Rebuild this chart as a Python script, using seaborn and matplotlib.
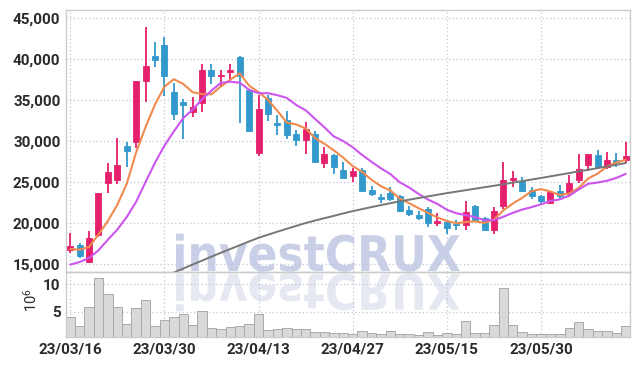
import numpy as np
import seaborn as sns
import matplotlib.pyplot as plt
from matplotlib.textpath import TextPath
from matplotlib.patches import PathPatch
from matplotlib.font_manager import FontProperties
from matplotlib.transforms import Affine2D, IdentityTransform

dates = ['23/03/16', '23/03/17', '23/03/20', '23/03/21', '23/03/22', '23/03/23', '23/03/24',
         '23/03/27', '23/03/28', '23/03/29', '23/03/30', '23/03/31',
         '23/04/03', '23/04/04', '23/04/05', '23/04/06', '23/04/07', '23/04/10', '23/04/11',
         '23/04/12', '23/04/13', '23/04/14', '23/04/17', '23/04/18', '23/04/19', '23/04/20',
         '23/04/21', '23/04/24', '23/04/25', '23/04/26', '23/04/27', '23/04/28',
         '23/05/02', '23/05/03', '23/05/04', '23/05/08', '23/05/09', '23/05/10', '23/05/11',
         '23/05/12', '23/05/15', '23/05/16', '23/05/17', '23/05/18', '23/05/19', '23/05/22',
         '23/05/23', '23/05/24', '23/05/25', '23/05/26', '23/05/30', '23/05/31',
         '23/06/01', '23/06/02', '23/06/05', '23/06/07', '23/06/08', '23/06/09', '23/06/12',
         '23/06/13']

open_p = [16650, 17350, 15300, 18500, 24850, 25200, 29350, 29850, 37300, 40400,
          41750, 36000, 34800, 33600, 34700, 38700, 37900, 38450, 40300, 36250,
          28600, 35250, 32200, 32600, 30900, 30100, 30900, 27300, 28250, 26500,
          25800, 26500, 24050, 23200, 23700, 23350, 21650, 21000, 21700, 20000,
          20150, 19800, 19700, 22100, 20600, 19200, 22050, 25200, 25150, 24050,
          23350, 22500, 23950, 23650, 25300, 27050, 28350, 26850, 27700, 27700]
high_p = [18800, 17500, 19050, 23700, 27300, 30350, 29850, 37350, 43900, 42050,
          42750, 37050, 35100, 35350, 39400, 39400, 38650, 39450, 40400, 36300,
          35650, 35650, 33150, 33700, 31400, 32300, 31200, 29250, 28450, 27500,
          26700, 26700, 24550, 23600, 24450, 23400, 22050, 21500, 21950, 21200,
          20250, 20400, 22650, 22250, 20700, 21900, 27500, 26400, 25600, 24450,
          23400, 23800, 24650, 25850, 28450, 28450, 28950, 28650, 28550, 29850]
low_p = [16400, 15750, 15100, 18350, 23650, 24800, 26900, 29200, 34750, 39000,
         35550, 32600, 30250, 33000, 33600, 37000, 36650, 37250, 32200, 31100,
         28150, 32500, 30700, 30300, 29350, 28400, 27500, 26700, 25950, 25500,
         25000, 23850, 23350, 22500, 22700, 21400, 20900, 20400, 19500, 19600,
         18600, 19100, 19200, 20200, 19100, 18650, 21700, 24450, 23750, 22950,
         22350, 22350, 22950, 23150, 24900, 26400, 26700, 26650, 26850, 27300]
close_p = [17250, 15950, 18150, 23700, 26200, 27100, 28750, 37350, 39200, 39900,
           38000, 33350, 34450, 34200, 38700, 37900, 38100, 38700, 38000, 31200,
           33950, 33350, 32000, 30800, 30100, 31500, 27500, 28400, 26850, 25550,
           26400, 23950, 23600, 22900, 22950, 21500, 21100, 20600, 20000, 20200,
           19350, 19700, 21400, 20400, 19200, 21450, 25300, 25500, 23950, 23250,
           22700, 23800, 23350, 24900, 26600, 28450, 26850, 27700, 27400, 28200]

# volume in 10^6 shares
volume = [3.96, 2.38, 5.79, 11.1, 8.17, 5.79, 2.68, 5.61, 7.07, 2.3,
          3.48, 4.02, 4.57, 2.56, 5.06, 1.95, 1.77, 2.13, 2.38, 2.7,
          4.57, 1.65, 1.83, 1.95, 1.77, 1.77, 1.34, 1.22, 1.04, 1.04,
          1.0, 1.4, 1.1, 1.0, 1.4, 1.0, 0.85, 0.7, 1.3, 0.8,
          1.16, 0.91, 3.29, 1.04, 1.04, 2.56, 9.27, 2.56, 1.22, 0.88,
          0.9, 0.85, 0.85, 1.95, 3.17, 1.77, 1.52, 1.52, 1.04, 2.38]

ma5 = [16830, 16750, 17070, 18600, 20250, 22230, 24790, 28630, 31720, 34460,
       36640, 37560, 36980, 35980, 35740, 35720, 36670, 37510, 38280, 36770,
       35980, 35040, 33700, 32260, 32040, 31550, 30380, 29670, 28870, 27970,
       26950, 26240, 25280, 24490, 23970, 22980, 22420, 21810, 21240, 20680,
       20250, 19970, 20120, 20200, 20000, 20420, 21550, 22370, 23070, 23890,
       24140, 23850, 23420, 23620, 24290, 25430, 26030, 26900, 27400, 27720]
ma10 = [14920, 15240, 15730, 16670, 17970, 19190, 20730, 22600, 25000, 27360,
        29440, 31180, 32810, 33850, 35100, 36180, 37110, 37250, 37130, 36260,
        35850, 35850, 35610, 35270, 34410, 33770, 32710, 31680, 30570, 30000,
        29250, 28310, 27470, 26680, 25970, 24970, 24330, 23550, 22860, 22330,
        21620, 21190, 20970, 20720, 20340, 20340, 20760, 21240, 21640, 21940,
        22280, 22700, 22890, 23350, 24090, 24790, 24940, 25160, 25510, 26000]
ma60_start = 11
ma60 = [13950, 14440, 14930, 15410, 15900, 16370, 16830, 17290, 17750,
        18200, 18570, 18940, 19300, 19650, 20000, 20300, 20590, 20880, 21170,
        21450, 21700, 21950, 22190, 22420, 22650, 22850, 23050, 23250, 23450,
        23650, 23830, 24010, 24190, 24370, 24550, 24740, 24930, 25120, 25310,
        25500, 25700, 25900, 26100, 26300, 26500, 26700, 26910, 27120, 27320]

price_ticks = [15000, 20000, 25000, 30000, 35000, 40000, 45000]
vol_ticks = [5, 10]
label_every = 10

up_color = '#e5206c'
down_color = '#3399cc'
grid_color = '#c3c7da'
spine_color = '#cccccc'
text_color = '#2b2b2b'

sns.set_theme(style='white')
plt.rcParams['font.family'] = ['Roboto', 'DejaVu Sans']

dpi = 100
fig = plt.figure(figsize=(639 / dpi, 366 / dpi), dpi=dpi, facecolor='white')
ax = fig.add_axes([66 / 639, 1 - 272 / 366, 564 / 639, 262.5 / 366])
axv = fig.add_axes([66 / 639, 1 - 337 / 366, 564 / 639, 65 / 366], sharex=ax)
for a in (ax, axv):
    a.set_facecolor('none')
    a.set_zorder(1)

# watermark with reflection
fp = FontProperties(family='DejaVu Sans', weight='bold')
tp = TextPath((0, 0), 'investCRUX', size=100, prop=fp)
ext = tp.get_extents()
sx = 284 / ext.width
sy = 38 / ext.height
base = 366 - 271
tr_main = Affine2D().translate(-ext.x0, 0).scale(sx, sy).translate(176, base)
tr_refl = Affine2D().translate(-ext.x0, 0).scale(sx, -sy).translate(176, base - 3)
fig.add_artist(PathPatch(tr_main.transform_path(tp), transform=IdentityTransform(),
                         facecolor='#c9cfe6', edgecolor='none', zorder=0))
fig.add_artist(PathPatch(tr_refl.transform_path(tp), transform=IdentityTransform(),
                         facecolor='#e6e8f1', edgecolor='none', zorder=0))

x = np.arange(len(dates))
o = np.array(open_p)
c = np.array(close_p)
colors = [up_color if cc >= oo else down_color for oo, cc in zip(o, c)]

ax.vlines(x, low_p, high_p, colors=colors, linewidth=1.3, zorder=3)
body = np.maximum(np.abs(c - o), 220)
ax.bar(x, body, bottom=np.minimum(o, c), width=0.64, color=colors,
       edgecolor=colors, linewidth=0.6, zorder=4)

sns.lineplot(x=x, y=ma5, ax=ax, color='#f08a4f', linewidth=1.5, zorder=5)
sns.lineplot(x=x, y=ma10, ax=ax, color='#cc55ee', linewidth=1.5, zorder=5)
sns.lineplot(x=x[ma60_start:], y=ma60, ax=ax, color='#777777', linewidth=1.4, zorder=5)

sns.barplot(x=x, y=volume, ax=axv, native_scale=True, color='#d9d9d9',
            edgecolor='#a9a9a9', linewidth=0.7, width=1.0, saturation=1, zorder=2)

ax.set_ylim(14020, 46070)
axv.set_ylim(0.38, 12.2)
ax.set_xlim(-0.45, 59.45)

ax.set_yticks(price_ticks)
ax.set_yticklabels([f'{v:,}' for v in price_ticks])
axv.set_yticks(vol_ticks)
axv.set_yticklabels([str(v) for v in vol_ticks])
tick_pos = x[::label_every]
axv.set_xticks(tick_pos)
axv.set_xticklabels([dates[i] for i in tick_pos])
ax.tick_params(axis='x', labelbottom=False)

for a in (ax, axv):
    a.grid(True, color=grid_color, linestyle=(0, (1, 2)), linewidth=0.9)
    a.set_axisbelow(True)
    a.tick_params(length=0, labelsize=11, colors=text_color, pad=4)
    for s in a.spines.values():
        s.set_color(spine_color)
        s.set_linewidth(1.0)
    a.set_xlabel('')
    a.set_ylabel('')
for lab in ax.get_yticklabels() + axv.get_yticklabels() + axv.get_xticklabels():
    lab.set_fontweight('bold')
    lab.set_color(text_color)

axv.set_ylabel(r'$\mathregular{10^6}$', fontsize=10.5, color=text_color)
axv.yaxis.set_label_coords(-0.047, 0.57)

fig.savefig('out.png', dpi=dpi)
